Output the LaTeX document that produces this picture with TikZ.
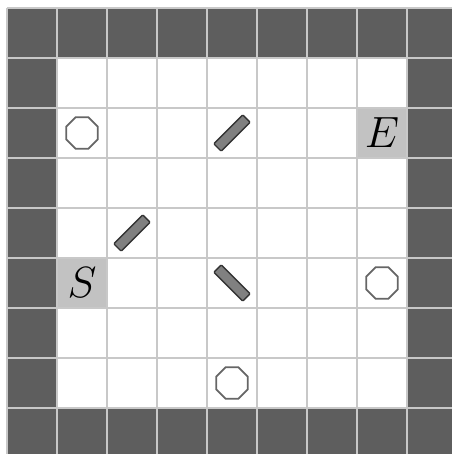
\documentclass[tikz,border=0pt]{standalone}
\usetikzlibrary{shapes.geometric}

\definecolor{wallgray}{HTML}{5E5E5E}
\definecolor{linegray}{HTML}{C8C8C8}
\definecolor{endgray}{HTML}{C2C2C2}
\definecolor{mirrorgray}{HTML}{808080}

\tikzset{
    post/.style={regular polygon, regular polygon sides=8, minimum size=0.68cm,
        inner sep=0pt, draw=black!60, line width=1pt, fill=white},
    mirror/.style={rectangle, minimum width=0.82cm, minimum height=0.21cm,
        inner sep=0pt, draw=black!80, line width=0.8pt, fill=mirrorgray,
        rounded corners=0.6pt},
    letter/.style={inner sep=0pt, font=\fontsize{27}{30}\selectfont}
}

\begin{document}
\begin{tikzpicture}[scale=1.0]
    \useasboundingbox (-0.14,0.08) rectangle (8.90,9.16);
    \clip (-0.14,0.08) rectangle (8.90,9.16);

    % Walls round the room
    \fill[wallgray] (0,0) rectangle (9,9);
    \fill[white] (1,1) rectangle (8,8);

    % Start and end cells
    \fill[endgray] (1,3) rectangle (2,4);
    \fill[endgray] (7,6) rectangle (8,7);

    % Grid
    \draw[linegray, line width=0.9pt] (0,0) grid (9,9);

    % Posts
    \node[post] (post1) at (1.5,6.5) {};
    \node[post] (post2) at (7.5,3.5) {};
    \node[post] (post3) at (4.5,1.5) {};

    % Mirrors
    \node[mirror, rotate=45] (mirror1) at (4.5,6.5) {};
    \node[mirror, rotate=45] (mirror2) at (2.5,4.5) {};
    \node[mirror, rotate=-45] (mirror3) at (4.5,3.5) {};

    % Labels
    \node[letter] (start) at (1.5,3.5) {$S$};
    \node[letter] (end) at (7.5,6.5) {$E$};
\end{tikzpicture}
\end{document}
